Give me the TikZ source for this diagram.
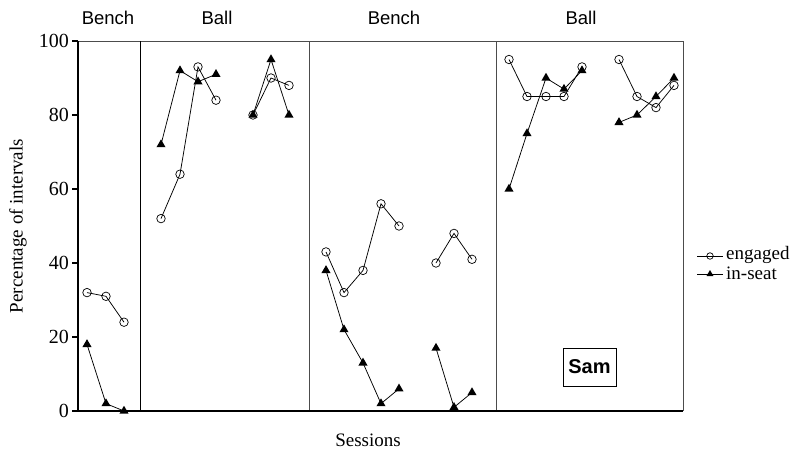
\documentclass[tikz,border=0pt]{standalone}
\usepackage{fontspec}
\setmainfont{Liberation Serif}
\newfontfamily\arialf{Liberation Sans}
\usetikzlibrary{shapes.geometric}
\begin{document}
\begin{tikzpicture}[x=1pt,y=-1pt,
  eng/.style={circle,draw,inner sep=0pt,minimum size=8.5pt,line width=0.7pt},
  ins/.style={regular polygon,regular polygon sides=3,fill=black,inner sep=0pt,minimum size=10.5pt},
  dl/.style={line width=0.75pt},
  ax/.style={line width=1.2pt},
  ph/.style={line width=1pt,black!70},
  tl/.style={font=\fontsize{20}{22}\selectfont,anchor=east,inner sep=0pt},
  hd/.style={font=\arialf\fontsize{18.5}{20}\selectfont,inner sep=0pt},
  sm/.style={font=\fontsize{19}{22}\selectfont,inner sep=0pt}
]
\useasboundingbox (0,0) rectangle (793,450);
% frame and axes
\coordinate (tl) at (78,41);
\coordinate (bl) at (78,411);
\coordinate (b0) at (72,411);
\coordinate (tr) at (683,41);
\coordinate (br) at (683,411);
\draw[ph] (tl) -- (tr) -- (br);
\foreach \p/\x/\c in {p1/140/black,p2/309/black!70,p3/496/black!70}{
  \coordinate (\p t) at (\x,41);
  \coordinate (\p b) at (\x,412);
  \draw[ph,draw=\c] (\p t) -- (\p b);
}
\draw[ax] (tl) -- (bl);
\draw[ax] (b0) -- (br);
% ticks and labels
\foreach \v in {0,20,40,60,80,100}{
  \coordinate (tk\v) at (72,{411-3.7*\v});
  \coordinate (tm\v) at (78,{411-3.7*\v});
  \draw[ax] (tk\v) -- (tm\v);
  \node[tl] (lab\v) at (69,{411-3.7*\v}) {\v};
}
\node[sm,rotate=90] (ylab) at (18,226) {Percentage of intervals};
\node[sm] (xlab) at (368,440) {Sessions};
% phase headings
\node[hd] (h1) at (108,18) {Bench};
\node[hd] (h2) at (217,18) {Ball};
\node[hd] (h3) at (394,18) {Bench};
\node[hd] (h4) at (581,18) {Ball};
% engaged series
\foreach \n/\x/\v in {a1/87/32,a2/106/31,a3/124/24,
  b1/161/52,b2/180/64,b3/198/93,b4/216/84,
  c1/253/80,c2/271/90,c3/289/88,
  d1/326/43,d2/344/32,d3/363/38,d4/381/56,d5/399/50,
  e1/436/40,e2/454/48,e3/472/41,
  f1/509/95,f2/527/85,f3/546/85,f4/564/85,f5/582/93,
  g1/619/95,g2/637/85,g3/656/82,g4/674/88}
  \coordinate (E\n) at (\x,{411-3.7*\v});
% in-seat series
\foreach \n/\x/\v in {a1/87/18,a2/106/2,a3/124/0,
  b1/161/72,b2/180/92,b3/198/89,b4/216/91,
  c1/253/80,c2/271/95,c3/289/80,
  d1/326/38,d2/344/22,d3/363/13,d4/381/2,d5/399/6,
  e1/436/17,e2/454/1,e3/472/5,
  f1/509/60,f2/527/75,f3/546/90,f4/564/87,f5/582/92,
  g1/619/78,g2/637/80,g3/656/85,g4/674/90}
  \coordinate (S\n) at (\x,{411-3.7*\v});
\foreach \s in {E,S}{
  \draw[dl] (\s a1) -- (\s a2) -- (\s a3);
  \draw[dl] (\s b1) -- (\s b2) -- (\s b3) -- (\s b4);
  \draw[dl] (\s c1) -- (\s c2) -- (\s c3);
  \draw[dl] (\s d1) -- (\s d2) -- (\s d3) -- (\s d4) -- (\s d5);
  \draw[dl] (\s e1) -- (\s e2) -- (\s e3);
  \draw[dl] (\s f1) -- (\s f2) -- (\s f3) -- (\s f4) -- (\s f5);
  \draw[dl] (\s g1) -- (\s g2) -- (\s g3) -- (\s g4);
}
\foreach \n in {a1,a2,a3,b1,b2,b3,b4,c1,c2,c3,d1,d2,d3,d4,d5,e1,e2,e3,f1,f2,f3,f4,f5,g1,g2,g3,g4}{
  \node[ins] (mS\n) at (S\n) {};
  \node[eng] (mE\n) at (E\n) {};
}
% legend
\coordinate (le1) at (697,256);
\coordinate (le2) at (723,256);
\coordinate (ls1) at (697,274);
\coordinate (ls2) at (723,274);
\draw[dl] (le1) -- (le2);
\draw[dl] (ls1) -- (ls2);
\node[eng,minimum size=6.5pt] (legE) at (710,256) {};
\node[ins,minimum size=8pt] (legS) at (710,274) {};
\node[sm,anchor=west] (legEt) at (726,255) {engaged};
\node[sm,anchor=west] (legSt) at (726,273) {in-seat};
% name box
\node[draw,line width=0.8pt,minimum width=53pt,minimum height=38pt,inner sep=0pt,
  font=\arialf\bfseries\fontsize{20}{22}\selectfont] (sam) at (589.5,367) {Sam};
\end{tikzpicture}
\end{document}
